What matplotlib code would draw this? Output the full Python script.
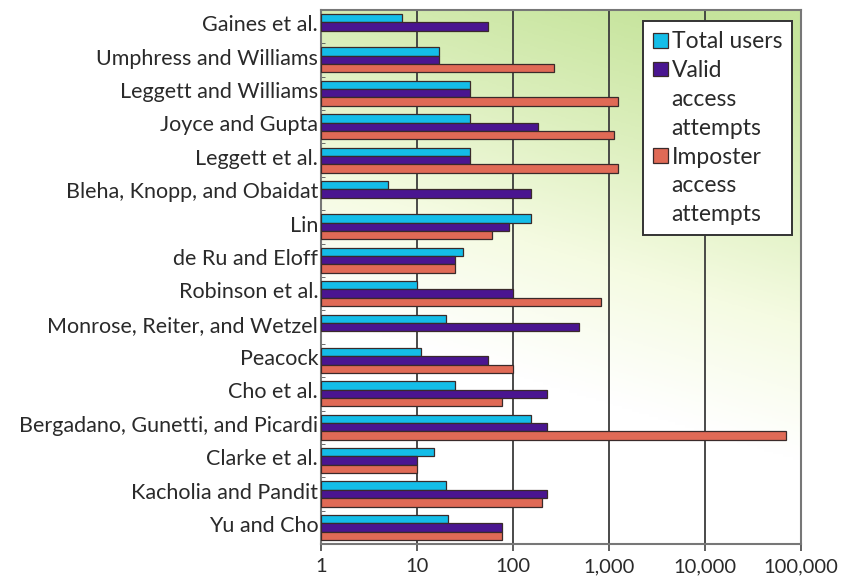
import numpy as np
import matplotlib
matplotlib.use("Agg")
import matplotlib.pyplot as plt
from matplotlib.colors import LinearSegmentedColormap
from matplotlib.patches import Patch

# ------------------------------------------------------------
# Data (top to bottom)
# ------------------------------------------------------------
studies = ["Gaines et al.", "Umphress and Williams", "Leggett and Williams",
           "Joyce and Gupta", "Leggett et al.", "Bleha, Knopp, and Obaidat",
           "Lin", "de Ru and Eloff", "Robinson et al.",
           "Monrose, Reiter, and Wetzel", "Peacock", "Cho et al.",
           "Bergadano, Gunetti, and Picardi", "Clarke et al.",
           "Kacholia and Pandit", "Yu and Cho"]
total_users = [7, 17, 36, 36, 36, 5, 154, 30, 10, 20, 11, 25, 154, 15, 20, 21]
valid_attempts = [55, 17, 36, 182, 36, 154, 91, 25, 100, 490, 55, 225, 225, 10, 225, 77]
imposter_attempts = [None, 270, 1250, 1130, 1250, None, 60, 25, 830, None, 100, 77,
                     71000, 10, 200, 77]
series_labels = [["Total users"], ["Valid", "access", "attempts"],
                 ["Imposter", "access", "attempts"]]
xticks = [1, 10, 100, 1000, 10000, 100000]
xtick_labels = ["1", "10", "100", "1,000", "10,000", "100,000"]

colors = ["#14bde8", "#4a1590", "#e06a56"]
FONT = ["Lato", "DejaVu Sans"]
plt.rcParams["font.family"] = FONT

fig = plt.figure(figsize=(8.49, 5.77), dpi=100)
ax = fig.add_axes([0.378, 0.057, 0.565, 0.926])

# ------------------------------------------------------------
# Gradient background (green at top, fading to white below)
# ------------------------------------------------------------
gx, gy = np.meshgrid(np.linspace(0, 1, 200), np.linspace(0, 1, 200))
t = np.clip(1.3 * gy + 0.35 * gx - 0.55, 0, 1)
bg_cmap = LinearSegmentedColormap.from_list("bg", ["#ffffff", "#f5fbe2", "#dcefbd", "#c6e49c"])
ax.imshow(t, cmap=bg_cmap, origin="lower", extent=[0, 1, 0, 1],
          transform=ax.transAxes, aspect="auto", zorder=0)

# ------------------------------------------------------------
# Bars
# ------------------------------------------------------------
n = len(studies)
pos = np.arange(n)
bar_h = 0.25
offsets = [-0.15, 0.10, 0.35]
for k, vals in enumerate([total_users, valid_attempts, imposter_attempts]):
    idx = [i for i, v in enumerate(vals) if v is not None]
    widths = [vals[i] - 1 for i in idx]
    ax.barh(pos[idx] + offsets[k], widths, left=1, height=bar_h,
            color=colors[k], edgecolor="#3a2a2a", linewidth=0.9, zorder=3)

ax.set_xscale("log")
ax.set_xlim(1, 100000)
ax.set_ylim(n - 0.5 + 0.1, -0.5 + 0.1)

# grid lines
for v in xticks[1:-1]:
    ax.axvline(v, color="#3c3c3c", linewidth=1.3, zorder=2)

ax.set_xticks(xticks)
ax.set_xticklabels(xtick_labels, fontsize=14.5, color="#2a2a2a")
ax.xaxis.set_minor_locator(matplotlib.ticker.NullLocator())
ax.tick_params(axis="x", direction="out", length=5, width=1.2, color="#444444", pad=5)

ax.set_yticks(pos)
ax.set_yticklabels(studies, fontsize=15.5, color="#2a2a2a")
ax.set_yticks(np.arange(n + 1) - 0.5 + 0.1, minor=True)
ax.tick_params(axis="y", which="major", length=0, pad=2)
ax.tick_params(axis="y", which="minor", direction="in", length=3, color="#555555")

for s in ax.spines.values():
    s.set_color("#777777")
    s.set_linewidth(1.5)

# ------------------------------------------------------------
# Legend: one entry per text line, swatch only on the first line
# ------------------------------------------------------------
handles, labels = [], []
for k, lines in enumerate(series_labels):
    for j, line in enumerate(lines):
        if j == 0:
            handles.append(Patch(facecolor=colors[k], edgecolor="#3a2a2a", linewidth=0.9))
        else:
            handles.append(Patch(facecolor="none", edgecolor="none"))
        labels.append(line)

leg = ax.legend(handles, labels, loc="upper right", bbox_to_anchor=(0.983, 0.979),
                fontsize=16.5, frameon=True, fancybox=False, edgecolor="#333333",
                framealpha=1, borderaxespad=0, handlelength=0.65, handleheight=0.6,
                handletextpad=0.15, labelspacing=0.34, borderpad=0.45)
leg.get_frame().set_linewidth(1.4)
for txt in leg.get_texts():
    txt.set_color("#2a2a2a")
leg.set_zorder(5)

fig.savefig("out.png", dpi=100)
